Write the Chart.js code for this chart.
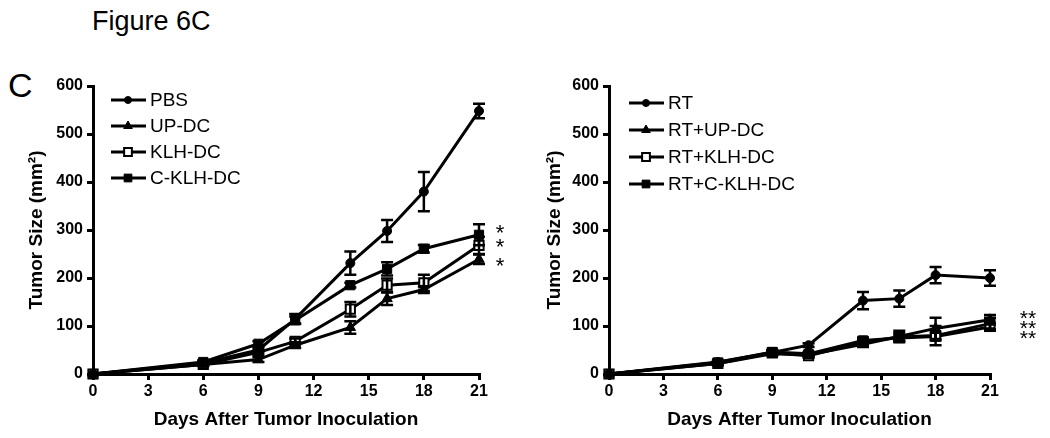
<!DOCTYPE html>
<html>
<head>
<meta charset="utf-8">
<script src="https://cdn.jsdelivr.net/npm/chart.js@4/dist/chart.umd.min.js"></script>
<style>
  body { margin: 0; background: #fff; width: 1050px; height: 438px; position: relative; overflow: hidden; font-family: "Liberation Sans", Arial, sans-serif; }
  canvas { position: absolute; top: 0; }
  #leftChart { left: 0; }
  #rightChart { left: 520px; }
  .fig { position: absolute; left: 92px; top: 6px; font-size: 27px; }
  .panel { position: absolute; left: 8px; top: 66px; font-size: 34px; }
</style>
</head>
<body>
<div class="fig">Figure 6C</div>
<div class="panel">C</div>
<canvas id="leftChart" width="520" height="438"></canvas>
<canvas id="rightChart" width="530" height="438"></canvas>
<script>
// days of measurement
const days = [0, 6, 9, 11, 14, 16, 18, 21];

// left panel
const pbs = [0, 23, 50, 115, 231, 298, 380, 548];
const pbsErr = [0, 3, 5, 10, 24, 23, 41, 15];
const upDc = [0, 20, 30, 60, 97, 157, 176, 239];
const upDcErr = [0, 3, 5, 6, 13, 13, 7, 10];
const klhDc = [0, 20, 45, 68, 135, 185, 190, 268];
const klhDcErr = [0, 3, 5, 6, 15, 14, 17, 18];
const cKlhDc = [0, 25, 63, 112, 185, 219, 261, 290];
const cKlhDcErr = [0, 3, 5, 8, 5, 14, 8, 22];

// right panel
const rt = [0, 25, 45, 60, 153, 157, 206, 200];
const rtErr = [0, 3, 4, 4, 18, 17, 17, 16];
const rtUpDc = [0, 22, 42, 40, 62, 78, 95, 113];
const rtUpDcErr = [0, 3, 4, 4, 6, 12, 22, 10];
const rtKlhDc = [0, 22, 44, 38, 66, 77, 80, 105];
const rtKlhDcErr = [0, 3, 4, 4, 6, 8, 20, 12];
const rtCKlhDc = [0, 24, 46, 42, 70, 75, 78, 98];
const rtCKlhDcErr = [0, 3, 4, 4, 6, 6, 8, 8];

// significance marks next to day 21
const leftStars = ["*", "*", "*"];
const leftStarY = [301, 270, 231];
const rightStars = ["**", "**", "**"];
const rightStarY = [124, 103, 82];

const FONT = "'Liberation Sans', Arial, sans-serif";

function markerRadius(style) {
  if (style === "rect") return 6.5;
  if (style === "triangle") return 6;
  return 4.5;
}

function series(label, values, errors, style, filled) {
  return {
    label: label,
    data: days.map((d, i) => ({ x: d, y: values[i] })),
    errors: errors,
    borderColor: "#000",
    borderWidth: 3,
    pointStyle: style,
    pointRadius: markerRadius(style),
    pointBorderWidth: filled ? 1 : 2,
    pointBorderColor: "#000",
    pointBackgroundColor: filled ? "#000" : "#fff",
    clip: false,
    tension: 0,
  };
}

// error bars, drawn through the chart scales
const errorBars = {
  id: "errorBars",
  afterDatasetsDraw(chart) {
    const ctx = chart.ctx;
    const xs = chart.scales.x;
    const ys = chart.scales.y;
    ctx.save();
    ctx.strokeStyle = "#000";
    ctx.lineWidth = 2.5;
    chart.data.datasets.forEach((ds) => {
      ds.data.forEach((p, i) => {
        const e = ds.errors[i];
        if (!e) return;
        const x = xs.getPixelForValue(p.x);
        const top = ys.getPixelForValue(p.y + e);
        const bot = ys.getPixelForValue(p.y - e);
        ctx.beginPath();
        ctx.moveTo(x, top);
        ctx.lineTo(x, bot);
        ctx.moveTo(x - 6, top);
        ctx.lineTo(x + 6, top);
        ctx.moveTo(x - 6, bot);
        ctx.lineTo(x + 6, bot);
        ctx.stroke();
      });
    });
    ctx.restore();
  },
};

// legend inside the plot, top left
const insideLegend = {
  id: "insideLegend",
  afterDraw(chart, args, opts) {
    const ctx = chart.ctx;
    const area = chart.chartArea;
    const x0 = area.left + opts.dx;
    ctx.save();
    chart.data.datasets.forEach((ds, i) => {
      const y = area.top + opts.dy + i * opts.gap;
      ctx.strokeStyle = "#000";
      ctx.lineWidth = 3;
      ctx.beginPath();
      ctx.moveTo(x0, y);
      ctx.lineTo(x0 + 35, y);
      ctx.stroke();
      ctx.fillStyle = ds.pointBackgroundColor;
      ctx.lineWidth = ds.pointBorderWidth;
      Chart.helpers.drawPoint(ctx, { pointStyle: ds.pointStyle, radius: ds.pointRadius - 1, borderWidth: ds.pointBorderWidth }, x0 + 17, y);
      ctx.fillStyle = "#000";
      ctx.font = "19px " + FONT;
      ctx.textBaseline = "middle";
      ctx.fillText(ds.label, x0 + 39, y + 1);
    });
    ctx.restore();
  },
};

// asterisks to the right of the last points
const stars = {
  id: "stars",
  afterDraw(chart, args, opts) {
    const ctx = chart.ctx;
    const ys = chart.scales.y;
    ctx.save();
    ctx.fillStyle = "#000";
    ctx.font = opts.size + "px " + FONT;
    ctx.textAlign = "center";
    ctx.textBaseline = "middle";
    opts.marks.forEach((m, i) => {
      ctx.fillText(m, chart.chartArea.right + opts.dx, ys.getPixelForValue(opts.values[i]) + opts.shift);
    });
    ctx.restore();
  },
};

function makeChart(id, datasets, cfg) {
  return new Chart(document.getElementById(id), {
    type: "line",
    data: { datasets: datasets },
    plugins: [errorBars, insideLegend, stars],
    options: {
      responsive: false,
      animation: false,
      layout: { padding: { left: 0, top: 86, right: cfg.right, bottom: 0 } },
      plugins: {
        legend: { display: false },
        tooltip: { enabled: false },
        insideLegend: cfg.legend,
        stars: cfg.stars,
      },
      scales: {
        x: {
          type: "linear",
          min: 0,
          max: 21,
          afterFit(s) { s.height = 64; },
          ticks: { stepSize: 3, color: "#000", padding: 2, font: { family: FONT, size: 16, weight: "bold" } },
          grid: { drawOnChartArea: false, tickLength: 6, lineWidth: 3, color: "#000" },
          border: { width: 3, color: "#000" },
          title: { display: true, text: "Days After Tumor Inoculation", color: "#000", padding: { top: 0, bottom: 7 }, font: { family: FONT, size: 19, weight: "bold" } },
        },
        y: {
          min: 0,
          max: 600,
          afterFit(s) { s.width = cfg.yWidth; },
          ticks: { stepSize: 100, color: "#000", padding: 4, font: { family: FONT, size: 16, weight: "bold" } },
          grid: { drawOnChartArea: false, tickLength: 6, lineWidth: 3, color: "#000" },
          border: { width: 3, color: "#000" },
          title: { display: true, text: "Tumor Size (mm²)", color: "#000", padding: { top: cfg.titlePad, bottom: 0 }, font: { family: FONT, size: 19, weight: "bold" } },
        },
      },
    },
  });
}

makeChart("leftChart", [
  series("PBS", pbs, pbsErr, "circle", true),
  series("UP-DC", upDc, upDcErr, "triangle", true),
  series("KLH-DC", klhDc, klhDcErr, "rect", false),
  series("C-KLH-DC", cKlhDc, cKlhDcErr, "rect", true),
], {
  right: 41,
  yWidth: 93,
  titlePad: 25,
  legend: { dx: 18, dy: 14, gap: 26 },
  stars: { marks: leftStars, values: leftStarY, dx: 21, size: 22, shift: 4 },
});

makeChart("rightChart", [
  series("RT", rt, rtErr, "circle", true),
  series("RT+UP-DC", rtUpDc, rtUpDcErr, "triangle", true),
  series("RT+KLH-DC", rtKlhDc, rtKlhDcErr, "rect", false),
  series("RT+C-KLH-DC", rtCKlhDc, rtCKlhDcErr, "rect", true),
], {
  right: 60,
  yWidth: 89,
  titlePad: 23,
  legend: { dx: 20, dy: 17, gap: 27 },
  stars: { marks: rightStars, values: rightStarY, dx: 38, size: 21, shift: 5 },
});
</script>
</body>
</html>
